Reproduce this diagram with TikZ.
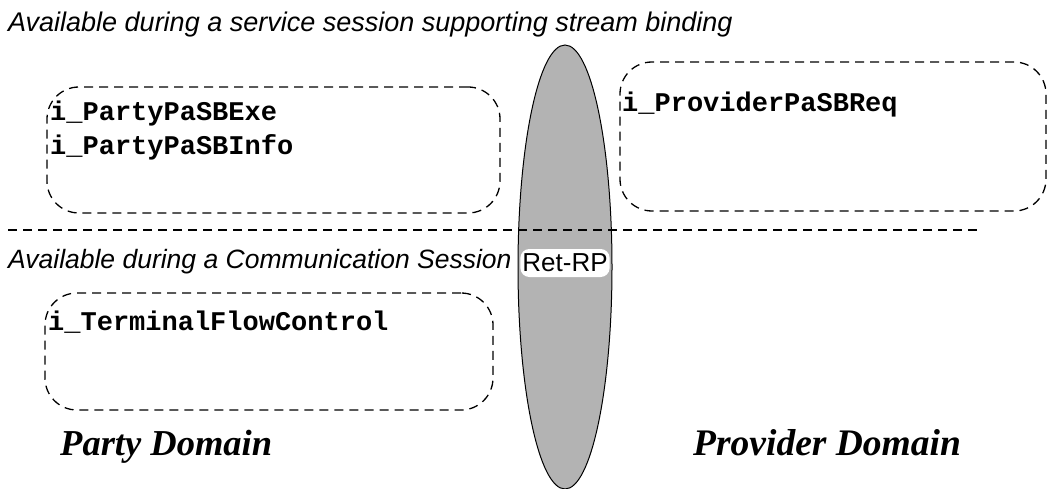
\documentclass[tikz,border=0pt]{standalone}
\usepackage{fontspec}
\setmainfont{Liberation Serif}
\setmonofont{Liberation Mono}
\newfontfamily\arialf{Liberation Sans}
\usetikzlibrary{shapes.geometric}
\definecolor{ellgray}{RGB}{179,179,179}
\tikzset{
  dbox/.style={draw, dashed, dash pattern=on 9pt off 6pt, line width=1.3pt, rounded corners=32pt, inner sep=0pt},
  sep/.style={draw, dash pattern=on 9pt off 6pt, line width=1.3pt},
  iface/.style={anchor=base west, inner sep=0pt, font=\ttfamily\bfseries\fontsize{27}{29}\selectfont},
  avail/.style={anchor=base west, inner sep=0pt, font=\arialf\itshape\fontsize{27}{29}\selectfont},
  domlabel/.style={anchor=base west, inner sep=0pt, font=\bfseries\itshape\fontsize{36.5}{40}\selectfont},
  rp/.style={fill=white, rounded corners=9pt, inner xsep=2pt, inner ysep=0pt, minimum height=28pt, font=\arialf\fontsize{26}{28}\selectfont}
}
\begin{document}
\begin{tikzpicture}[x=1pt,y=-1pt]
\useasboundingbox (0,0) rectangle (1049,489);
\node[avail] (t1) at (8,32) {Available during a service session supporting stream binding};
\node[dbox, minimum width=453pt, minimum height=126pt] (bl) at (273.5,150) {};
\node[dbox, minimum width=426pt, minimum height=149pt] (br) at (833,136.5) {};
\node[dbox, minimum width=448pt, minimum height=117pt] (bb) at (269,351.5) {};
\draw[fill=ellgray, line width=1pt] (565,267) ellipse [x radius=47, y radius=222];
\coordinate (s1) at (8,230);
\coordinate (s2) at (978,230);
\draw[sep] (s1) -- (s2);
\node[iface] (p1) at (50,121) {i\_PartyPaSBExe};
\node[iface] (p2) at (50,155) {i\_PartyPaSBInfo};
\node[iface] (p3) at (622,112) {i\_ProviderPaSBReq};
\node[iface] (p4) at (48,330) {i\_TerminalFlowControl};
\node[avail, font=\arialf\itshape\fontsize{26.5}{29}\selectfont] (t2) at (8,268) {Available during a Communication Session};
\node[rp] (rp) at (565,263) {Ret-RP};
\node[domlabel] (d1) at (60,455) {Party Domain};
\node[domlabel, font=\bfseries\itshape\fontsize{37.5}{40}\selectfont] (d2) at (693,455) {Provider Domain};
\end{tikzpicture}
\end{document}
